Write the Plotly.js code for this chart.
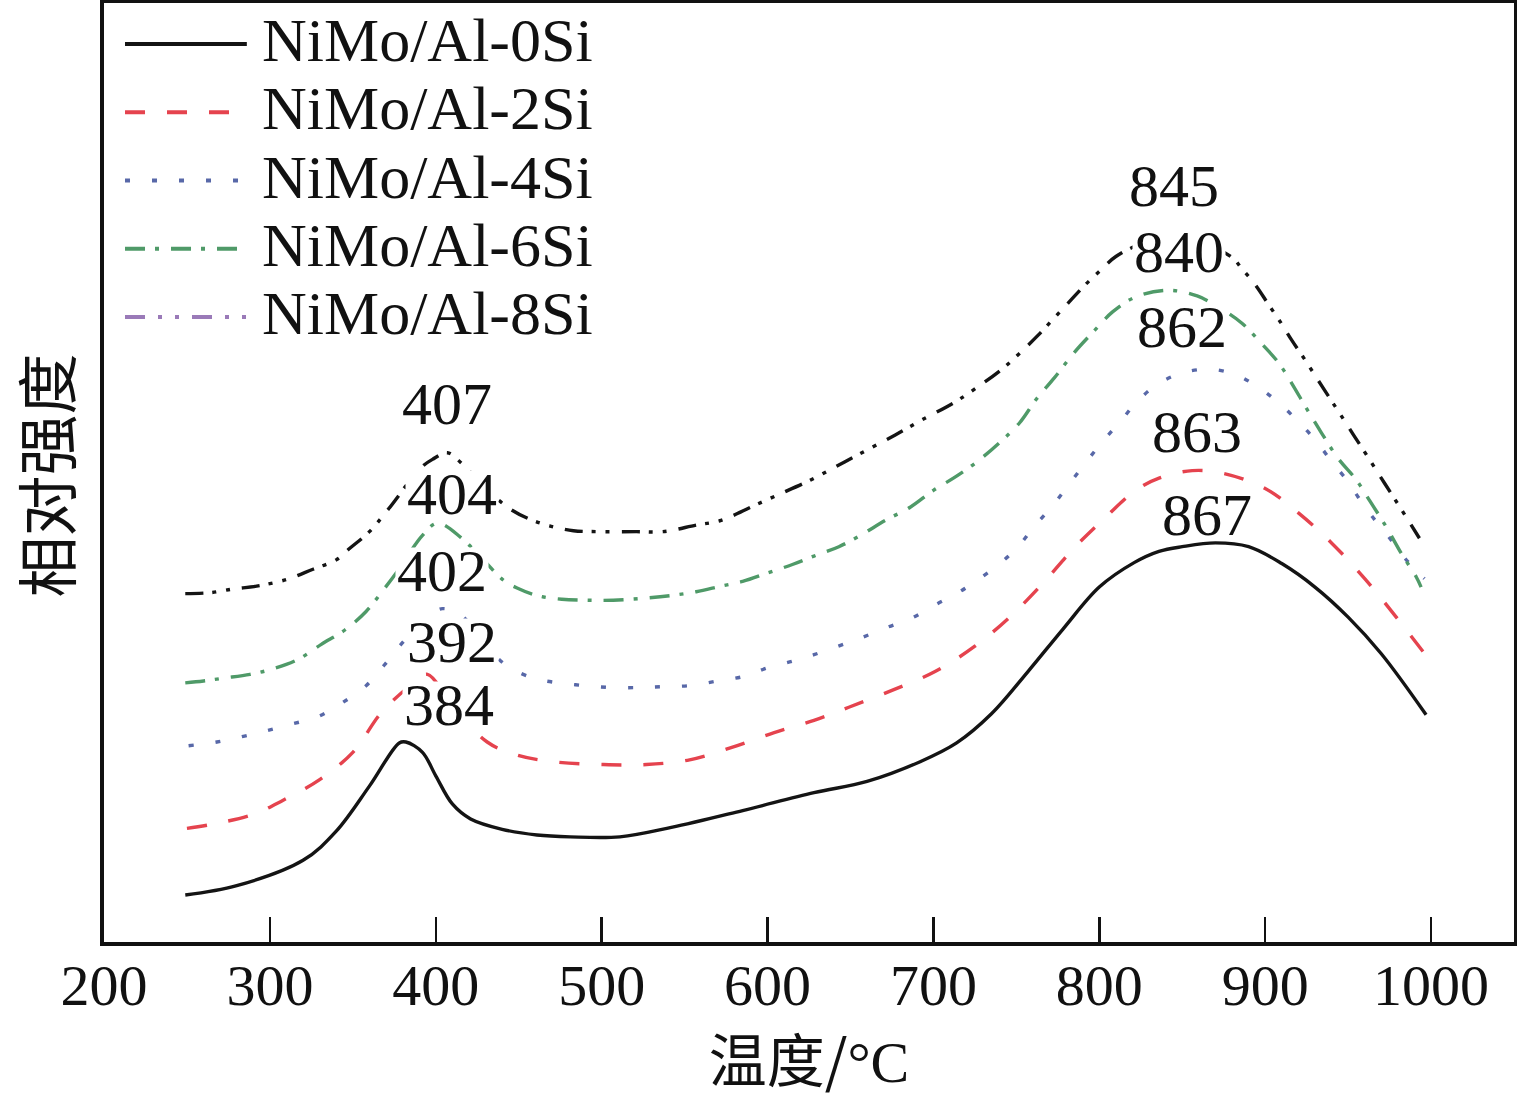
<!DOCTYPE html>
<html><head><meta charset="utf-8">
<script src="https://cdn.plot.ly/plotly-3.0.1.min.js"></script>
<style>html,body{margin:0;padding:0;background:#fff}#chart{width:1517px;height:1099px}</style>
</head><body><div id="chart"></div>
<script>
// ---- data (temperature °C, relative intensity a.u.) ----
const seriesNames = ['NiMo/Al-0Si','NiMo/Al-2Si','NiMo/Al-4Si','NiMo/Al-6Si','NiMo/Al-8Si'];

const x0Si = [249,280,320,340,360,378,382,392,400,410,421,440,461,481,511,542,585,628,660,692,714,735,757,778,800,821,836,850,870,890,910,930,950,970,997];
const y0Si = [5.0,6.0,8.7,11.8,16.6,21.2,21.3,20.2,17.7,14.7,13.1,12.0,11.4,11.2,11.2,12.2,14.0,15.9,17.1,19.2,21.2,24.3,28.8,33.3,37.8,40.4,41.6,42.1,42.5,42.1,40.3,37.8,34.6,30.7,24.2];

const x2Si = [250,264,290,308,330,350,368,389,395,411,431,449,471,501,527,553,578,604,628,649,675,701,725,746,766,785,803,822,836,856,875,900,920,940,960,979,997];
const y2Si = [12.1,12.5,13.6,15.1,17.3,20.2,24.6,27.9,28.5,25.0,21.3,19.9,19.2,18.9,18.9,19.4,20.7,22.3,23.6,25.0,26.8,28.8,31.5,34.6,38.2,42.0,45.1,48.1,49.4,50.2,49.9,48.3,45.7,42.5,38.7,34.6,30.5];

const x4Si = [251,268,284,298,313,329,343,358,369,381,394,404,416,430,443,459,474,490,506,523,537,553,570,586,600,615,628,644,658,672,687,701,714,727,740,751,761,772,782,792,802,813,823,836,850,866,881,894,907,919,930,940,950,956,965,976,986,996];
const y4Si = [20.9,21.3,21.9,22.5,23.2,24.0,25.4,27.3,29.5,32.1,34.5,35.5,34.7,31.6,29.4,28.1,27.6,27.3,27.1,27.1,27.2,27.3,27.8,28.3,29.2,29.9,30.6,31.6,32.5,33.5,34.5,35.9,37.1,38.6,40.3,42.1,44.3,46.5,48.8,51.1,53.3,55.5,57.6,59.5,60.6,61.0,60.5,59.3,57.6,55.6,53.5,51.2,49.0,47.4,45.2,42.8,40.5,38.7];

const x6Si = [249,260,272,288,302,317,331,345,358,368,377,392,401,415,427,441,449,461,476,491,507,525,542,557,572,585,600,615,628,643,656,671,686,700,713,726,740,752,762,773,785,797,808,822,842,859,872,886,898,908,916,925,934,944,955,963,973,982,991,994];
const y6Si = [27.6,27.8,28.1,28.5,29.1,30.1,31.7,33.2,35.2,37.4,39.5,43.3,44.6,43.1,41.0,38.5,37.7,36.9,36.5,36.4,36.4,36.6,36.9,37.3,37.9,38.4,39.3,40.2,41.1,42.1,43.3,44.9,46.3,48.1,49.5,51.1,53.2,55.3,57.8,60.1,62.8,65.1,67.1,68.7,69.4,68.8,67.6,65.9,63.7,61.7,59.5,56.8,54.2,51.5,49.2,47.0,44.2,41.4,38.9,37.8];

const x8Si = [249,264,278,292,310,326,340,348,360,371,391,398,407,416,430,445,457,469,483,499,521,537,557,572,591,606,626,643,660,677,692,712,725,742,752,763,772,782,791,800,810,828,845,863,880,886,894,902,910,916,924,932,939,946,954,961,970,978,982,993];
const y8Si = [37.1,37.2,37.6,37.9,38.6,39.7,40.7,41.9,43.7,46.0,50.5,51.4,52.1,50.9,48.3,46.1,45.0,44.3,43.8,43.7,43.7,43.7,44.4,44.9,46.4,47.6,49.2,50.8,52.4,54.0,55.5,57.4,58.9,61.1,62.7,64.6,66.3,68.2,69.9,71.4,73.0,74.5,74.8,74.4,72.9,71.7,70.0,67.9,65.8,64.1,62.0,59.8,57.9,56.0,53.8,51.9,49.4,47.2,46.1,43.0];

// peak temperature labels
const peakText = ['407','404','402','392','384','845','840','862','863','867'];
const peakX = [407,410,404,410,408,845,848,850,859,865];
const peakY = [57.3,47.7,39.5,32.0,25.2,80.5,73.5,65.5,54.3,45.5];

const xTickVals = [200,300,400,500,600,700,800,900,1000];
const xTitle = '温度/<span style="font-family:Liberation Serif">°C</span>';
const yTitle = '相对强度';

// ---- styles ----
const xs = [x0Si,x2Si,x4Si,x6Si,x8Si];
const ys = [y0Si,y2Si,y4Si,y6Si,y8Si];
const lineColors = ['#141414','#e5434e','#5868a8','#4f9a68','#141414'];
const legendColors = ['#141414','#e5434e','#5868a8','#4f9a68','#9a7ab8'];
const dashes = ['solid','20px,22px','5px,22px','20px,10px,4px,12px','18px,9px,4px,10px,4px,12px'];
const legendDashes = ['solid','20px,22px','5px,22px','20px,10px,4px,12px','20px,13px,4px,13px,4px,13px'];

const serif = 'Liberation Serif, Times New Roman, serif';
const cjk = 'Noto Sans CJK SC, sans-serif';

const traces = xs.map((x,i)=>({
  x: x, y: ys[i], type:'scatter', mode:'lines', name: seriesNames[i],
  line:{color: lineColors[i], width: 3.4, dash: dashes[i], shape:'spline', smoothing:1.0, simplify:false},
  showlegend:false, hoverinfo:'skip'
}));

// custom legend (long line samples like the original)
const legTop = 0.9564, legStep = 0.0727;
const shapes = [];
const annotations = [];
seriesNames.forEach((n,i)=>{
  const yy = legTop - i*legStep;
  shapes.push({type:'line', xref:'paper', yref:'paper', x0:0.0149, x1:0.1013, y0:yy, y1:yy,
    line:{color:legendColors[i], width:4, dash:legendDashes[i]}});
  annotations.push({xref:'paper', yref:'paper', x:0.1106, y:yy+0.004, xanchor:'left', yanchor:'middle',
    text:n, showarrow:false, font:{family:serif, size:62, color:'#111'}});
});
peakText.forEach((t,i)=>{
  annotations.push({x:peakX[i], y:peakY[i], xref:'x', yref:'y', text:t, showarrow:false,
    xanchor:'center', yanchor:'middle', bgcolor:'#ffffff', borderpad:0, width:92, height:46,
    font:{family:serif, size:60, color:'#111'}});
});
// y-axis title placed as rotated text
annotations.push({xref:'paper', yref:'paper', x:-0.0425, y:0.497, xanchor:'center', yanchor:'middle',
  text:yTitle, textangle:-90, showarrow:false, borderpad:0, font:{family:cjk, size:61, color:'#111'}});

const layout = {
  width:1517, height:1099,
  margin:{l:104, r:3, t:3, b:157, pad:0},
  paper_bgcolor:'#fff', plot_bgcolor:'#fff',
  showlegend:false,
  xaxis:{
    range:[200,1050], tickvals:xTickVals, ticks:'inside', ticklen:25, tickwidth:2.5, tickcolor:'#111',
    showline:true, linecolor:'#111', linewidth:4, mirror:true, showgrid:false, zeroline:false,
    tickfont:{family:serif, size:58, color:'#111'}, ticklabelstandoff:-11,
    title:{text:xTitle, font:{family:cjk, size:58, color:'#111'}, standoff:40}
  },
  yaxis:{
    range:[0,100], showticklabels:false, ticks:'', showline:true, linecolor:'#111', linewidth:4,
    mirror:true, showgrid:false, zeroline:false
  },
  shapes: shapes,
  annotations: annotations
};

Plotly.newPlot('chart', traces, layout, {staticPlot:true, displayModeBar:false});
</script>
</body></html>
